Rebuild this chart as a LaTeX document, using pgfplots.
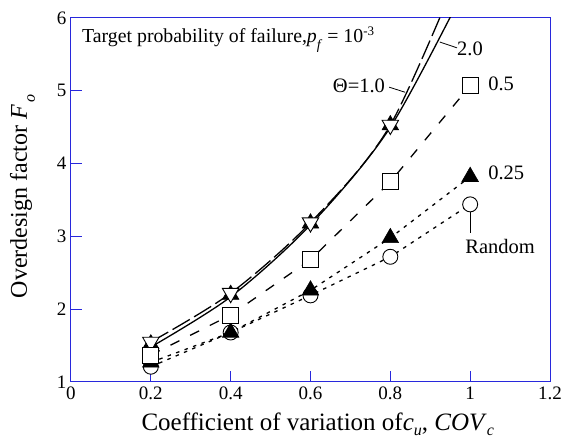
\documentclass[border=0pt]{standalone}
\usepackage{fontspec}
\setmainfont{Liberation Serif}
\usepackage{pgfplots}
\pgfplotsset{compat=1.18}
\definecolor{axblue}{RGB}{40,40,220}
\begin{document}
\begin{tikzpicture}
\useasboundingbox (-71pt,-57pt) rectangle (500pt,382pt);
\begin{axis}[
 at={(0pt,0pt)}, anchor=south west,
 width=479pt, height=364pt, scale only axis,
 xmin=0, xmax=1.2, ymin=1, ymax=6,
 xtick={0,0.2,0.4,0.6,0.8,1,1.2},
 xticklabels={0,0.2,0.4,0.6,0.8,1,1.2},
 ytick={1,2,3,4,5,6},
 yticklabels={1,2,3,4,5,6},
 xtick pos=bottom, ytick pos=left,
 tick align=inside,
 major tick length=11pt,
 axis line style={axblue, line width=1pt},
 every tick/.style={axblue, line width=1pt},
 /pgf/number format/assume math mode=true,
 tick label style={font=\fontsize{19}{22}\selectfont, black},
 xticklabel style={yshift=-1pt},
 yticklabel style={xshift=-1pt},
 xlabel={Coefficient of variation of\textit{c}\raisebox{-5pt}{\fontsize{16}{16}\selectfont\textit{u}}, \textit{COV}\raisebox{-5pt}{\fontsize{16}{16}\selectfont\textit{c}}},
 ylabel={Overdesign factor \textit{F}\kern2pt\raisebox{-8pt}{\fontsize{16}{16}\selectfont\textit{o}}},
 xlabel style={font=\fontsize{25}{28}\selectfont, at={(axis description cs:0.515,-0.132)}, anchor=base},
 ylabel style={font=\fontsize{24}{28}\selectfont, at={(axis description cs:-0.0919,0.51)}, anchor=base, rotate=0},
 clip=true,
]
% Random
\addplot[black, line width=1.3pt, dash pattern=on 3.5pt off 5.5pt,
  mark=*, mark size=7.5pt, mark options={solid, draw=black, fill=white, line width=0.9pt}]
  coordinates {(0.2,1.21) (0.4,1.68) (0.6,2.19) (0.8,2.72) (1.0,3.44)};
% 0.25
\addplot[black, line width=1.3pt, dash pattern=on 3.5pt off 5.5pt,
  mark=triangle*, mark size=9.5pt, mark options={solid, fill=black, line width=0.6pt}]
  coordinates {(0.2,1.27) (0.4,1.68) (0.6,2.26) (0.8,2.98) (1.0,3.82)};
% Theta = 2.0 line (solid)
\addplot[black, line width=1.3pt, smooth, no markers]
  coordinates {(0.2,1.48) (0.4,2.17) (0.6,3.16) (0.8,4.50) (1.0,6.55)};
\addplot[black, only marks, mark=triangle*, mark size=9.5pt, mark options={solid, fill=black, line width=0.6pt}]
  coordinates {(0.2,1.52) (0.4,2.20) (0.6,3.18) (0.8,4.53)};
% Theta = 1.0 line (long dashed)
\addplot[black, line width=1.3pt, smooth, no markers, dash pattern=on 20pt off 5pt]
  coordinates {(0.2,1.55) (0.4,2.22) (0.6,3.19) (0.8,4.53) (1.0,7.00)};
\addplot[black, only marks, mark=triangle*, mark size=9.5pt, mark options={solid, rotate=180, draw=black, fill=white, line width=0.9pt}]
  coordinates {(0.2,1.55) (0.4,2.22) (0.6,3.19) (0.8,4.53)};
% 0.5 (dashed)
\addplot[black, line width=1.3pt, dash pattern=on 10pt off 12pt,
  mark=square*, mark size=8pt, mark options={solid, draw=black, fill=white, line width=0.9pt}]
  coordinates {(0.2,1.37) (0.4,1.92) (0.6,2.68) (0.8,3.75) (1.0,5.07)};

% annotations
\node[anchor=base west, inner sep=0pt, font=\fontsize{19.8}{22}\selectfont] at (axis cs:0.0276,5.657)
  {Target probability of failure,\textit{p}\raisebox{-7pt}{\fontsize{14}{14}\selectfont\textit{f}} = 10\raisebox{7pt}{\fontsize{13}{13}\selectfont -3}};
\node[anchor=base east, inner sep=0pt, font=\fontsize{20.5}{22}\selectfont] at (axis cs:0.787,4.97) {Θ=1.0};
\draw[black, line width=0.8pt] (axis cs:0.797,5.05) -- (axis cs:0.837,4.98);
\node[anchor=base west, inner sep=0pt, font=\fontsize{20.5}{22}\selectfont] at (axis cs:0.967,5.49) {2.0};
\draw[black, line width=0.8pt] (axis cs:0.924,5.67) -- (axis cs:0.967,5.59);
\node[anchor=base west, inner sep=0pt, font=\fontsize{20.5}{22}\selectfont] at (axis cs:1.045,5.01) {0.5};
\node[anchor=base west, inner sep=0pt, font=\fontsize{20.5}{22}\selectfont] at (axis cs:1.045,3.775) {0.25};
\node[anchor=base, inner sep=0pt, font=\fontsize{20.5}{22}\selectfont] at (axis cs:1.075,2.77) {Random};
\draw[black, line width=0.8pt] (axis cs:1.0,3.335) -- (axis cs:1.0,3.05);
\end{axis}
\end{tikzpicture}
\end{document}
